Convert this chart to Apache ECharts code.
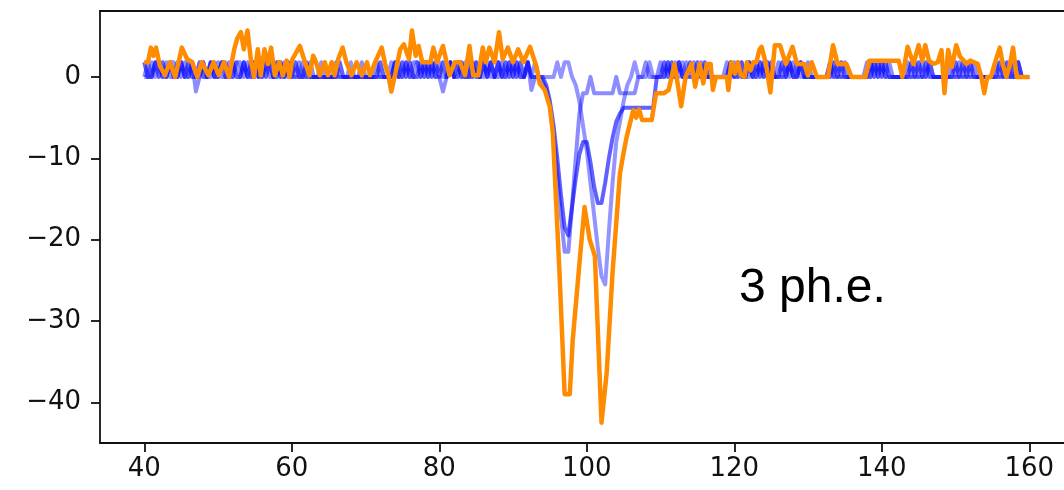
<!DOCTYPE html>
<html><head><meta charset="utf-8">
<script src="https://cdn.jsdelivr.net/npm/echarts@6/dist/echarts.min.js"></script>
<style>html,body{margin:0;padding:0;background:#fff}#c{width:1064px;height:490px}</style>
</head><body><div id="c"></div>
<script>
// sampling grid of the single-photoelectron traces
const tStart = 40, tStep = 0.5;
// blue trace A (x = 40 ... 160 step 0.5)
const blueA = [
 0,1.8,0,1.8,1.8,0,1.8,0,0,1.8,          // 40
 0,1.8,0,1.8,-1.8,0,1.8,0,1.8,0,         // 45
 1.8,0,0,1.8,0,1.8,1.8,0,1.8,0,          // 50
 0,1.8,0,1.8,0,0,1.8,0,1.8,0,            // 55
 1.8,0,1.8,0,0,1.8,0,0,0,0,              // 60
 0,0,1.8,0,0,0,0,0,0,1.8,                // 65
 0,0,0,1.8,0,0,0,0,1.8,0,                // 70
 0,1.8,0,1.8,1.8,0,1.8,0,1.8,0,          // 75
 0,-1.8,0,1.8,0,1.8,0,0,1.8,0,           // 80
 1.8,0,1.8,0,1.8,0,0,1.8,0,1.8,          // 85
 0,1.8,0,0,1.8,-1.6,0,0,-0.5,-1.5,       // 90
 -3.5,-7,-12,-17,-21.5,-21.5,-16,-10,-4.5,-2, // 95
 -2,0,-2,-2,-2,-2,-2,-2,0,-2,            // 100
 -2,-2,-2,-2,0,0,1.8,0,0,0,              // 105
 1.8,0,1.8,0,0,1.8,0,1.8,0,1.8,          // 110
 0,1.8,0,0,0,0,0,0,1.8,0,                // 115
 1.8,0,1.8,0,1.8,0,0,1.8,0,1.8,          // 120
 0,0,1.8,0,1.8,0,1.8,0,1.8,0,            // 125
 1.8,0,0,0,0,0,1.8,0,1.8,0,              // 130
 1.8,0,0,0,0,0,1.8,0,1.8,0,              // 135
 1.8,0,1.8,0,0,0,0,1.8,0,1.8,            // 140
 0,1.8,0,1.8,0,0,0,0,0,1.8,              // 145
 0,1.8,0,1.8,0,1.8,0,0,0,0,              // 150
 0,1.8,0,1.8,0,1.8,0,1.8,0,0,            // 155
 0                                        // 160
];
// blue trace B
const blueB = [
 1.8,0,0,1.8,0,1.8,0,1.8,0,0,            // 40
 1.8,0,1.8,0,0,1.8,0,0,1.8,0,            // 45
 0,1.8,0,0,1.8,0,0,1.8,0,1.8,            // 50
 1.8,0,1.8,0,1.8,0,0,1.8,0,1.8,          // 55
 0,1.8,0,0,1.8,0,0,0,0,0,                // 60
 0,0,0,1.8,0,0,0,0,0,0,                  // 65
 0,0,0,0,1.8,0,0,0,1.8,0,                // 70
 1.8,0,1.8,0,0,1.8,0,1.8,0,1.8,          // 75
 0,1.8,0,1.8,0,0,1.8,0,0,1.8,            // 80
 0,0,1.8,0,1.8,0,1.8,0,1.8,0,            // 85
 1.8,0,1.8,0,1.8,0,0,0,0,-1,             // 90
 -3,-6,-10,-14.5,-18.5,-19.5,-16,-12.5,-9.5,-8, // 95
 -8,-10.5,-13.5,-15.5,-15.5,-13,-10,-7.5,-5.5,-4.5, // 100
 -3.8,-3.8,-3.8,-3.8,-3.8,-3.8,-3.8,-3.8,-3.8,0, // 105
 0,1.8,0,1.8,0,1.8,0,0,1.8,0,            // 110
 1.8,0,1.8,0,0,0,0,0,0,1.8,              // 115
 0,1.8,0,0,1.8,0,1.8,0,1.8,0,            // 120
 1.8,0,0,1.8,0,1.8,0,0,1.8,0,            // 125
 0,0,0,0,0,0,0,1.8,0,1.8,                // 130
 0,0,0,0,0,0,0,1.8,0,1.8,                // 135
 0,1.8,0,0,0,0,0,0,1.8,0,                // 140
 1.8,0,1.8,0,0,0,0,0,0,0,                // 145
 1.8,0,1.8,0,1.8,0,0,0,0,0,              // 150
 0,0,1.8,0,1.8,0,0,1.8,0,0,              // 155
 0                                        // 160
];
// blue trace C
const blueC = [
 0,0,1.8,0,1.8,0,0,1.8,1.8,0,            // 40
 1.8,0,0,1.8,0,0,1.8,0,0,1.8,            // 45
 0,1.8,1.8,0,0,1.8,0,1.8,0,0,            // 50
 1.8,0,0,1.8,1.8,0,1.8,0,0,1.8,          // 55
 0,0,0,1.8,0,0,0,0,1.8,0,                // 60
 0,0,0,0,0,0,1.8,0,0,0,                  // 65
 0,0,0,0,0,0,0,1.8,0,1.8,                // 70
 0,1.8,0,0,1.8,0,1.8,0,1.8,0,            // 75
 1.8,0,0,1.8,0,1.8,0,1.8,0,0,            // 80
 1.8,0,0,1.8,0,0,1.8,0,0,1.8,            // 85
 0,1.8,0,0,1.8,0,1.8,0,0,0,              // 90
 0,0,1.8,0,1.8,1.8,0,-1,-3,-6,           // 95
 -9,-13,-17,-21,-24.5,-25.5,-19,-13,-8,-5.5, // 100
 -3,-1,0,1.8,0,0,0,1.8,0,0,              // 105
 0,0,1.8,0,1.8,0,1.8,0,0,0,              // 110
 0,0,0,0,0,0,0,0,0,1.8,                  // 115
 0,0,1.8,0,0,1.8,0,1.8,0,1.8,            // 120
 0,0,0,0,0,1.8,0,1.8,0,0,                // 125
 0,0,0,0,0,0,1.8,0,0,0,                  // 130
 0,0,0,0,0,0,0,0,1.8,0,                  // 135
 1.8,0,0,0,0,0,0,0,0,0,                  // 140
 0,0,0,1.8,0,0,0,0,0,0,                  // 145
 0,0,0,0,0,0,0,0,0,0,                    // 150
 0,0,0,0,0,0,1.8,0,0,0,                  // 155
 0                                        // 160
];
// summed signal (orange), [time, amplitude]
const orange = [
 [40,1.8],[40.5,1.8],[40.9,3.6],[41.25,2.6],[41.6,3.6],[42.1,1.4],[42.8,0.2],[43.5,1.8],[44.2,0],[45.1,3.6],
 [45.8,2.2],[46.5,1.8],[47.2,0],[47.8,1.8],[48.7,0.2],[49.4,1.8],[50.1,0.2],[50.8,1.8],[51.5,0],[52.2,3.4],
 [52.6,4.7],[53.1,5.5],[53.5,3.4],[54,5.7],[54.5,1.8],[54.9,0],[55.4,3.4],[55.8,0.2],[56.3,3.4],[56.8,1.6],
 [57.2,3.6],[57.7,0.2],[58.3,1.8],[58.8,0.2],[59.3,2],[59.7,0],[60.1,2.2],[61.1,3.8],[61.8,1.8],[62.4,0.2],
 [62.9,2.6],[63.3,1.8],[63.8,0.2],[64.5,1.8],[64.9,0.2],[65.4,1.8],[65.8,0.2],[66.3,2.2],[66.9,3.6],[67.4,1.8],
 [68.1,0.2],[68.8,1.8],[69.5,0.2],[70.2,1.8],[70.6,0.2],[71.3,1.8],[72.2,3.6],[72.7,1.4],[73.1,0.2],[73.5,-1.8],
 [74,0.2],[74.7,3.4],[75.2,4],[75.9,2.2],[76.3,5.7],[76.8,2.6],[77.2,3.8],[77.7,1.8],[78.3,1.8],[78.8,1.8],
 [79.2,3.6],[79.7,1.8],[80.5,3.8],[81,1.8],[81.4,0.2],[82.1,1.8],[82.8,1.8],[83.5,0.2],[84.1,3.8],[84.6,0.2],
 [85.3,0.2],[85.9,3.6],[86.3,1.8],[86.8,3.6],[87.5,1.8],[88.1,5.5],[88.6,2.2],[89.3,3.6],[90,1.8],[90.7,3.4],
 [91.4,1.8],[92.3,3.7],[93.2,1.2],[93.6,-0.8],[94.3,-1.6],[95,-3.7],[95.4,-6.9],[96.3,-24],[97,-39],[97.7,-39],
 [98.1,-32.3],[99.1,-22],[99.7,-16],[100.4,-20],[101.1,-22],[102,-42.5],[102.7,-36.4],[103.5,-24],[104.5,-11.9],[104.9,-9.8],
 [105.4,-7.4],[106.3,-4.1],[106.7,-5],[107.1,-4],[107.5,-5.3],[108.8,-5.3],[109.4,-2],[110.5,-2],[111.1,-1.6],[111.9,1.6],
 [112.8,-3.6],[113.4,0],[114.2,1.6],[114.7,-1.2],[115.3,1.6],[115.8,-0.8],[116.3,1.6],[116.8,1.6],[117.1,-1.6],[117.5,0],
 [119,0],[119.2,-1.6],[119.6,1.8],[120.1,0.4],[120.5,1.8],[120.9,0.2],[121.4,0],[121.7,1.8],[122.2,0.8],[122.6,1.8],
 [123,1.8],[123.4,3.3],[123.7,3.7],[124.3,1.6],[124.9,-1.9],[125.5,3.9],[126.2,3.9],[127,1.6],[127.9,3.7],[128.5,1.6],
 [129.5,1.6],[130,0.2],[130.5,1.8],[131.2,0],[132.7,0],[133.4,3.9],[134,1.6],[135.2,1.6],[135.9,0],[137.8,0],
 [138.3,2],[142.3,2],[142.8,0],[143,0],[143.5,3.7],[144.3,1.6],[145,3.9],[145.5,2],[145.9,3.9],[146.4,2],
 [147,1.6],[147.6,1.8],[148.1,3.3],[148.5,-2],[149,3.3],[149.5,1.2],[150.1,3.9],[150.6,2.5],[151.5,1.6],[152,2],
 [152.5,1.8],[153,1.6],[153.5,0],[153.9,-2],[154.3,0],[154.8,0],[155.3,1.6],[156,3.6],[156.4,1.6],[156.9,0],
 [157.4,1.6],[157.8,3.6],[158.3,0],[160,0]
];
const xTicks = [40,60,80,100,120,140,160];
const yTicks = [-40,-30,-20,-10,0];
const annotation = '3 ph.e.';

const onGrid = arr => arr.map((v,i) => [tStart + i*tStep, v]);
const chart = echarts.init(document.getElementById('c'), null, {renderer:'canvas'});
const lab = {color:'#111', fontFamily:'DejaVu Sans', fontSize:26};
const axLine = {show:true, onZero:false, lineStyle:{color:'#111', width:1.8}};
const blueLine = (data, op) => ({type:'line', data:onGrid(data), showSymbol:false, symbol:'none', animation:false,
  lineStyle:{color:'#0000ff', opacity:op, width:4, join:'round'}, z:2});
chart.setOption({
  animation:false,
  backgroundColor:'#fff',
  // frame is cropped on the right: the visible plot ends at the window edge
  grid:{left:100, top:11, right:0, height:432, show:false},
  xAxis:[{type:'value', min:34, max:164.71,
    axisLine:axLine,
    axisTick:{show:true, customValues:xTicks, length:9, lineStyle:{color:'#111', width:1.8}},
    axisLabel:Object.assign({customValues:xTicks, margin:13}, lab),
    splitLine:{show:false}},
   {type:'value', position:'top', min:34, max:164.71, axisLine:axLine,
    axisTick:{show:false}, axisLabel:{show:false}, splitLine:{show:false}}],
  yAxis:{type:'value', min:-45, max:8.1,
    axisLine:axLine,
    axisTick:{show:true, customValues:yTicks, length:9, lineStyle:{color:'#111', width:1.8}},
    axisLabel:Object.assign({customValues:yTicks, margin:19,
      formatter:v => v < 0 ? '\u2212' + Math.abs(v) : String(v)}, lab),
    splitLine:{show:false}},
  series:[
    blueLine(blueA, 0.45),
    blueLine(blueB, 0.62),
    blueLine(blueC, 0.42),
    {type:'line', data:orange, showSymbol:false, symbol:'none', animation:false,
     lineStyle:{color:'#ff8c00', width:4.5, join:'round'}, z:3}
  ],
  graphic:[{type:'text', left:739, top:265, style:{text:annotation, fill:'#000',
    font:'48px "Liberation Sans", Arial, sans-serif'}}]
});
</script></body></html>
